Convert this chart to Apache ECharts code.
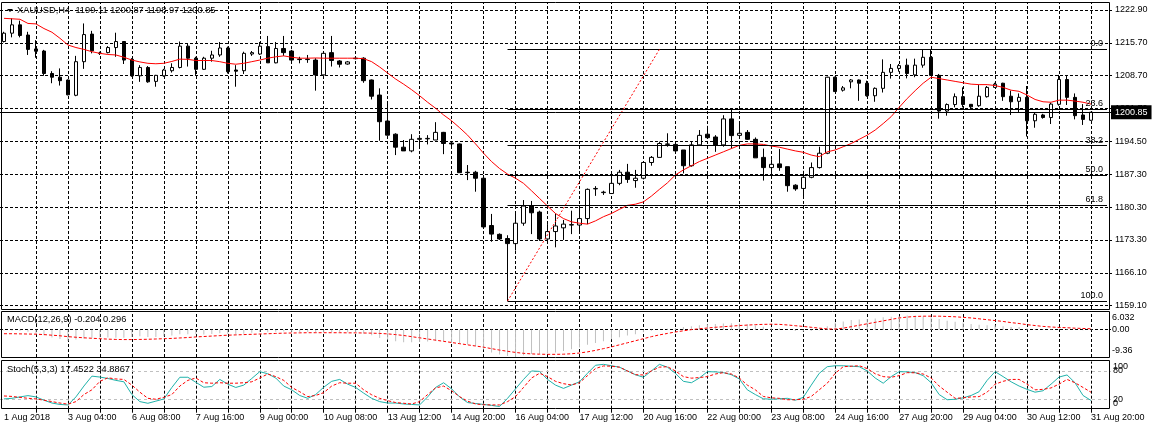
<!DOCTYPE html>
<html><head><meta charset="utf-8">
<script src="https://cdn.jsdelivr.net/npm/echarts@6/dist/echarts.min.js"></script>
<style>html,body{margin:0;padding:0;background:#fff}#c{width:1152px;height:430px}</style>
</head><body><div id="c"></div>
<script>
// ---------- data ----------
const symbolName = 'XAUUSD,H4';
const open = [1216.1,1217.9,1219.7,1217.5,1214.5,1214.05,1209.2,1208.4,1207.8,1204.5,
1211.75,1217.7,1213.6,1213.7,1214.8,1216.1,1212.25,1208.7,1210.5,1207.5,
1208.7,1209.8,1210.5,1215.1,1212.5,1210.1,1212.5,1213.2,1214.7,1209.95,
1209.8,1213.4,1213.4,1215.0,1211.5,1214.6,1214.05,1212.3,1212.2,1212.1,
1208.9,1213.7,1211.9,1211.25,1212.5,1212.5,1207.8,1204.55,1198.95,1196.1,
1193.3,1192.5,1195.0,1195.1,1194.85,1196.5,1194.2,1194.0,1187.9,1187.9,
1186.6,1176.4,1174.5,1173.6,1172.5,1176.9,1180.6,1179.3,1173.5,1175.1,
1175.9,1176.5,1176.5,1177.9,1184.3,1183.5,1183.3,1185.5,1187.9,1186.1,
1186.6,1190.0,1191.1,1193.9,1193.9,1192.7,1189.3,1193.8,1196.1,1195.5,
1193.8,1199.4,1195.85,1196.5,1195.0,1191.1,1188.9,1189.7,1189.1,1185.1,
1184.4,1186.8,1188.9,1192.0,1208.4,1205.6,1207.4,1207.8,1207.1,1204.4,
1206.0,1209.45,1210.3,1211.0,1208.9,1211.0,1212.7,1208.8,1201.1,1202.5,
1204.2,1202.55,1202.25,1204.2,1206.2,1207.1,1204.3,1203.2,1204.05,1199.0,
1200.25,1199.7,1202.55,1207.9,1204.05,1200.25,1199.11];
const high = [1218.2,1221.1,1220.6,1218.2,1216.4,1214.3,1209.7,1210.3,1207.9,1213.0,
1220.0,1218.4,1213.9,1215.1,1218.0,1216.2,1212.5,1211.0,1210.8,1208.9,
1210.2,1211.4,1216.1,1215.7,1212.8,1212.8,1214.1,1216.0,1215.0,1211.0,
1213.9,1214.05,1216.0,1217.3,1216.0,1217.3,1214.3,1212.8,1213.2,1212.5,
1213.9,1217.3,1212.1,1211.9,1212.8,1212.7,1207.9,1206.0,1202.9,1196.3,
1194.85,1196.1,1195.9,1195.9,1198.7,1196.6,1194.5,1194.1,1189.45,1188.2,
1187.3,1178.9,1174.7,1174.3,1179.0,1181.9,1181.7,1179.6,1176.7,1179.0,
1177.6,1179.6,1180.45,1184.4,1184.9,1183.9,1187.3,1188.4,1189.7,1188.4,
1190.2,1191.4,1194.5,1196.3,1194.1,1192.7,1194.5,1197.0,1197.9,1195.9,
1200.2,1201.7,1198.8,1197.0,1195.4,1193.0,1190.7,1192.9,1189.1,1185.3,
1188.2,1190.0,1193.4,1208.5,1208.5,1206.5,1208.0,1207.9,1207.65,1206.2,
1212.25,1211.25,1211.25,1212.4,1212.4,1214.3,1214.3,1209.1,1202.75,1204.9,
1206.2,1202.6,1206.7,1206.5,1207.2,1207.2,1205.5,1204.9,1206.5,1200.75,
1200.5,1202.9,1208.9,1208.65,1204.9,1202.6,1200.87];
const low = [1215.9,1217.0,1217.0,1213.2,1212.6,1208.7,1207.1,1206.6,1204.5,1204.3,
1210.2,1213.55,1213.2,1213.55,1212.8,1211.25,1208.5,1207.4,1207.2,1206.35,
1208.5,1209.4,1210.3,1210.7,1208.9,1209.95,1211.75,1212.8,1209.2,1206.35,
1209.1,1213.0,1213.2,1211.5,1211.4,1213.0,1211.75,1211.4,1211.5,1205.5,
1208.7,1210.7,1210.5,1211.1,1212.25,1207.2,1203.6,1194.7,1195.8,1191.6,
1192.5,1192.2,1193.0,1193.9,1194.85,1191.8,1193.4,1187.8,1186.2,1183.7,
1176.1,1172.9,1173.3,1160.1,1171.0,1176.35,1174.55,1173.1,1173.3,1171.7,
1173.3,1174.55,1174.7,1176.7,1182.8,1183.0,1183.2,1185.1,1185.6,1184.55,
1186.35,1189.3,1191.1,1193.4,1192.5,1187.65,1189.1,1193.7,1195.2,1192.3,
1193.4,1193.0,1195.35,1194.85,1191.0,1186.1,1187.3,1188.2,1183.7,1183.9,
1182.6,1186.6,1188.7,1191.8,1205.3,1205.3,1206.0,1203.3,1204.2,1203.1,
1205.1,1208.1,1209.6,1208.15,1208.4,1210.45,1208.7,1199.45,1200.1,1201.9,
1201.9,1201.75,1202.0,1204.0,1206.1,1203.3,1200.25,1200.9,1195.6,1197.5,
1199.45,1198.3,1202.25,1202.4,1199.3,1198.1,1198.97];
const close = [1217.9,1219.7,1217.4,1214.4,1214.0,1209.2,1208.4,1207.65,1204.6,1211.75,
1217.6,1214.1,1213.5,1214.8,1216.1,1212.1,1208.7,1210.5,1207.4,1208.8,
1209.95,1210.5,1215.1,1212.5,1210.1,1212.5,1213.2,1214.7,1209.6,1209.7,
1213.55,1213.7,1215.1,1211.5,1214.6,1213.7,1212.1,1212.2,1212.3,1208.9,
1213.55,1212.0,1211.2,1211.7,1212.4,1207.65,1204.3,1198.8,1195.9,1193.3,
1192.5,1195.0,1195.2,1195.2,1196.5,1194.1,1194.0,1187.8,1187.8,1186.6,
1176.1,1174.55,1173.5,1172.5,1176.9,1180.6,1179.15,1173.5,1175.1,1176.3,
1176.7,1176.6,1177.9,1184.2,1184.4,1183.6,1185.5,1187.9,1186.35,1186.6,
1190.0,1191.1,1194.1,1194.0,1192.5,1189.3,1193.8,1195.85,1195.35,1193.8,
1199.4,1195.8,1196.3,1195.0,1191.0,1188.9,1189.6,1188.9,1185.0,1184.3,
1186.8,1188.9,1192.0,1208.4,1205.3,1206.1,1207.8,1207.1,1204.4,1206.0,
1209.45,1210.3,1210.9,1209.2,1211.0,1212.7,1208.8,1201.1,1202.5,1204.2,
1202.5,1202.0,1204.3,1206.2,1206.9,1204.2,1203.1,1204.05,1199.0,1200.4,
1199.7,1202.6,1207.9,1204.05,1200.1,1199.3,1200.85];
const movingAverage = [1221.1,1221.0,1220.9,1220.0,1219.9,1218.9,1218.1,1216.8,1215.35,1214.8,
1214.4,1213.9,1213.55,1213.3,1213.2,1212.7,1212.1,1211.7,1211.4,1211.3,
1211.4,1211.8,1212.3,1212.25,1212.0,1212.0,1212.0,1211.75,1211.4,1211.2,
1211.4,1211.75,1212.1,1212.5,1212.8,1213.0,1212.7,1212.5,1212.5,1212.55,
1212.5,1212.5,1212.5,1212.5,1212.5,1212.4,1211.75,1210.6,1209.3,1208.0,
1206.9,1205.7,1204.4,1203.0,1201.7,1200.25,1199.0,1197.5,1195.9,1194.0,
1192.0,1190.2,1188.7,1187.5,1186.6,1185.5,1183.9,1182.25,1180.6,1179.0,
1177.9,1177.2,1176.9,1176.7,1177.4,1178.3,1179.0,1179.9,1180.75,1181.0,
1181.5,1182.75,1184.2,1185.6,1187.3,1188.4,1189.3,1190.2,1190.9,1191.6,
1192.3,1193.0,1193.7,1194.0,1194.0,1193.9,1193.55,1193.3,1192.9,1192.5,
1192.2,1191.6,1191.25,1192.3,1192.7,1193.4,1194.1,1195.0,1195.9,1197.0,
1198.4,1199.9,1201.9,1203.8,1205.5,1207.1,1208.4,1208.1,1207.8,1207.5,
1207.2,1206.9,1206.8,1206.8,1206.6,1206.2,1205.6,1205.35,1204.55,1203.6,
1203.1,1203.0,1203.45,1203.45,1203.25,1203.0,1202.6];
const macdMain = [-0.3,-0.3,-0.4,-0.7,-1.3,-1.9,-2.7,-3.2,-3.9,-3.4,
-3.0,-2.8,-2.7,-2.7,-2.8,-2.8,-2.5,-2.3,-2.5,-2.5,
-2.3,-2.0,-1.6,-1.6,-1.6,-1.7,-1.5,-1.2,-1.5,-1.7,
-1.4,-1.1,-0.8,-0.9,-0.7,-0.6,-0.7,-0.8,-0.8,-1.1,
-0.8,-0.8,-0.9,-0.9,-0.8,-1.3,-1.9,-2.9,-3.5,-4.0,
-4.3,-4.3,-4.2,-4.1,-3.9,-4.0,-4.6,-4.9,-5.1,-5.6,
-6.8,-7.8,-8.5,-9.0,-9.36,-8.8,-8.3,-8.3,-8.1,-7.8,
-7.3,-6.7,-6.1,-5.2,-4.6,-4.0,-3.3,-2.6,-2.0,-1.6,
-0.9,-0.4,0.0,0.3,0.6,0.9,1.2,1.5,1.8,1.9,
2.1,2.2,2.1,1.8,1.4,1.0,0.7,0.4,-0.1,-0.5,
-0.6,-0.5,-0.2,1.2,2.4,2.8,3.3,3.5,3.6,3.8,
4.2,4.4,4.6,4.8,4.8,4.6,4.2,3.6,3.0,2.7,
2.4,1.9,1.7,1.5,1.5,1.2,0.9,0.9,0.4,0.2,
0.1,0.1,0.3,0.2,-0.1,-0.2,-0.204];
const macdSignal = [-1.4,-1.4,-1.45,-1.5,-1.55,-1.7,-1.9,-2.1,-2.4,-2.6,
-2.8,-2.95,-3.1,-3.25,-3.35,-3.4,-3.4,-3.35,-3.3,-3.2,
-3.1,-3.0,-2.85,-2.7,-2.5,-2.35,-2.2,-2.05,-1.9,-1.8,
-1.7,-1.6,-1.5,-1.4,-1.3,-1.2,-1.15,-1.1,-1.05,-1.05,
-1.05,-1.05,-1.05,-1.1,-1.1,-1.15,-1.2,-1.3,-1.45,-1.7,
-2.0,-2.4,-2.8,-3.2,-3.6,-4.0,-4.4,-4.8,-5.2,-5.6,
-6.0,-6.5,-7.0,-7.4,-7.8,-8.1,-8.3,-8.4,-8.45,-8.45,
-8.4,-8.25,-8.0,-7.6,-7.1,-6.5,-5.9,-5.2,-4.5,-3.8,
-3.1,-2.4,-1.8,-1.3,-0.8,-0.4,0.0,0.3,0.55,0.8,
1.0,1.2,1.4,1.55,1.7,1.8,1.85,1.8,1.6,1.35,
1.1,0.8,0.5,0.25,0.2,0.5,1.0,1.5,2.0,2.5,
3.0,3.5,4.0,4.3,4.5,4.6,4.6,4.6,4.5,4.4,
4.2,4.0,3.7,3.4,3.1,2.8,2.4,2.1,1.7,1.4,
1.1,0.9,0.75,0.65,0.5,0.4,0.296];
const stochMain = [20.7,22,25,27.7,25,18,12,9,8,25,
48,69,67,64,60,57,30,15,11.5,16,
20.7,45,66.6,66.6,56,45.5,47,62,52,45,
50,64,78.5,74,65,48,40,28,22,30,
45.5,58,62,52,45,33,22,15,12,12,
10,9,8,25,45,55,42,25,13,11,
9,7,4.6,22,42,62,80,79,62,50,
43,50,57,75,92,94,91,88,80,72,
66.6,80,94,88,75,58,55,65,78.5,78,
76.4,72,63,40,30,21,20,21,22,18,
24,50,75,89,91,91,90,89,80,65,
54,68,78.5,78,76.4,70,55,30,19,20,
23,28,36,60,78.5,68,57,48,41,35,
38,52,67,71.5,55,28,17.4522];
const stochSignal = [27,26,24,22,20.7,18,15,12,9.5,15,
30,40,58,65.5,63,62,50,35,22,20,
24,30,48,60,65,55,54,55,54,54,
55,57,65,73.5,68,60,45,36,25.6,28,
34,48,55,54,54,40,29.5,22,17,13,
11.5,10,15,30,44,48,38,25.6,16,10,
8.5,8,8,15,25.6,45,65,75,68,58,
53,50.3,55,70,85,90.6,90,88,80,72,
71.5,80,88,89,80,68,64.7,66,68,73.5,
76.4,73.5,65,50,40,26,23,22,19,19,
20,26,40,54,75,89,90,91,85,74,
68,66.6,70,76.4,76,73.5,65,48,35,22,
23,25,25.6,35,52,58,62,62,52,40,
41,44,52,62,55,45,34.8867];
const priceGridValues = [1222.90,1215.81,1208.72,1201.63,1194.54,1187.46,1180.37,1173.28,1166.19,1159.10];
const priceTickLabels = ['1222.90','1215.70','1208.70','1201.70','1194.50','1187.30','1180.30','1173.30','1166.10','1159.10'];
const macdTicks = [6.032, 0, -9.36];
const macdTickLabels = ['6.032','0.00','-9.36'];
const stochEdgeTicks = [100, 0];
const stochLevels = [80, 20];
const timeTickIndex = [0,8,16,24,32,40,48,56,64,72,80,88,96,104,112,120,128,136];
const timeTickLabels = ['1 Aug 2018','3 Aug 04:00','6 Aug 08:00','7 Aug 16:00','9 Aug 00:00','10 Aug 08:00','13 Aug 12:00','14 Aug 20:00','16 Aug 04:00','17 Aug 12:00','20 Aug 16:00','22 Aug 00:00','23 Aug 08:00','24 Aug 16:00','27 Aug 20:00','29 Aug 04:00','30 Aug 12:00','31 Aug 20:00'];
const fibLevels = [0, 23.6, 38.2, 50, 61.8, 100];
const fibLevelLabels = ['0.0','23.6','38.2','50.0','61.8','100.0'];
const fibLowIndex = 63, fibLowPrice = 1160.1;
const fibHighIndex = 82, fibHighPrice = 1214.4;

// ---------- build ----------
const N = close.length;
const categories = Array.from({length: N + 2}, (_, i) => String(i));
const candles = close.map((c, i) => [open[i], c, low[i], high[i]]);
const FONT = 'Liberation Sans';
const gridDash = {color: '#000', width: 1, type: [3, 2]};
const vLines = [];
for (let i = 4; i < N + 2; i += 4) vLines.push({xAxis: i});
const baseMark = {silent: true, symbol: ['none', 'none'], label: {show: false}, animation: false, z: 1};
const empty = categories.map(() => '-');
const lastBid = close[N - 1];

const fibData = fibLevels.map((lv, k) => {
  const p = fibHighPrice - lv / 100 * (fibHighPrice - fibLowPrice);
  return [{coord: [fibLowIndex, p], label: {show: true, formatter: fibLevelLabels[k]}}, {coord: [N + 1, p]}];
});

const chart = echarts.init(document.getElementById('c'), null, {renderer: 'canvas'});
const richTop = (pad) => ({t: {padding: [pad, 0, 0, 0], fontSize: 9, fontFamily: FONT, color: '#000'},
                            b: {padding: [0, 0, pad, 0], fontSize: 9, fontFamily: FONT, color: '#000'},
                            m: {fontSize: 9, fontFamily: FONT, color: '#000'}});
const titleStyle = {fontSize: 9.3, fontWeight: 'normal', color: '#000', fontFamily: FONT};
const option = {
  animation: false,
  backgroundColor: '#fff',
  textStyle: {fontFamily: FONT},
  title: [
    {text: symbolName + '  ' + [open[N-1], high[N-1], low[N-1], close[N-1]].map(v => v.toFixed(2)).join(' '),
     left: 17, top: 6, padding: 0, textStyle: titleStyle},
    {text: 'MACD(12,26,9) ' + macdMain[N-1].toFixed(3) + ' ' + macdSignal[N-1].toFixed(3),
     left: 7, top: 315, padding: 0, textStyle: titleStyle},
    {text: 'Stoch(5,3,3) ' + stochMain[N-1].toFixed(4) + ' ' + stochSignal[N-1].toFixed(4),
     left: 7, top: 365, padding: 0, textStyle: titleStyle}
  ],
  graphic: [
    {type: 'polygon', shape: {points: [[7, 9], [13, 9], [10, 12]]}, style: {fill: '#000'}},
    {type: 'rect', shape: {x: 1.5, y: 2.5, width: 1108, height: 307}, style: {fill: 'none', stroke: '#000', lineWidth: 1}, z: 10},
    {type: 'rect', shape: {x: 1.5, y: 311.5, width: 1108, height: 46}, style: {fill: 'none', stroke: '#000', lineWidth: 1}, z: 10},
    {type: 'rect', shape: {x: 1.5, y: 360.5, width: 1108, height: 48}, style: {fill: 'none', stroke: '#000', lineWidth: 1}, z: 10}
  ],
  grid: [
    {left: -1, width: 1112, top: 3, height: 306},
    {left: -1, width: 1112, top: 312, height: 45},
    {left: -1, width: 1112, top: 361.5, height: 47.2}
  ],
  xAxis: [0, 1, 2].map(g => ({
    type: 'category', gridIndex: g, data: categories, boundaryGap: true,
    axisLine: {show: false}, splitLine: {show: false},
    axisTick: g === 2 ? {show: true, alignWithLabel: true, interval: (i) => i > 0 && i % 4 === 0, length: 4, lineStyle: {color: '#000'}} : {show: false},
    axisLabel: g === 2 ? {show: true, interval: (i) => timeTickIndex.includes(i),
      formatter: (v, i) => timeTickLabels[timeTickIndex.indexOf(Number(v))] || '',
      align: 'left', margin: 4, color: '#000', fontSize: 9, fontFamily: FONT} : {show: false}
  })),
  yAxis: [
    {type: 'value', gridIndex: 0, position: 'right', offset: -2, min: 1158.39, max: 1224.41,
     splitLine: {show: false}, axisLine: {show: false},
     axisTick: {show: true, customValues: priceGridValues, length: 3, lineStyle: {color: '#000'}},
     axisLabel: {customValues: priceGridValues, margin: 6, color: '#000', fontSize: 9, fontFamily: FONT,
       showMinLabel: true, showMaxLabel: true,
       formatter: (v) => { const k = priceGridValues.findIndex(p => Math.abs(p - v) < 1e-6); return k >= 0 ? priceTickLabels[k] : ''; }}},
    {type: 'value', gridIndex: 1, position: 'right', offset: -2, min: -9.36, max: 6.032,
     splitLine: {show: false}, axisLine: {show: false},
     axisTick: {show: false, customValues: macdTicks},
     axisLabel: {customValues: macdTicks, margin: 3, rich: richTop(12), showMinLabel: true, showMaxLabel: true,
       formatter: (v) => { const k = macdTicks.findIndex(p => Math.abs(p - v) < 1e-6); const s = macdTickLabels[k];
         return k === 0 ? '{t|' + s + '}' : (k === 2 ? '{b|' + s + '}' : '{m|' + s + '}'); }}},
    {type: 'value', gridIndex: 2, position: 'right', offset: -2, min: 0, max: 100,
     splitLine: {show: false}, axisLine: {show: false},
     axisTick: {show: false, customValues: stochLevels},
     axisLabel: {customValues: stochLevels, margin: 4, rich: richTop(10), showMinLabel: true, showMaxLabel: true,
       formatter: (v) => '{m|' + v + '}'}},
    {type: 'value', gridIndex: 2, position: 'right', offset: -2, min: 0, max: 100,
     splitLine: {show: false}, axisLine: {show: false},
     axisTick: {show: false, customValues: stochEdgeTicks},
     axisLabel: {customValues: stochEdgeTicks, margin: 4, rich: richTop(10), showMinLabel: true, showMaxLabel: true,
       formatter: (v) => v === 100 ? '{t|100}' : '{b|0}'}}
  ],
  series: [
    {type: 'line', xAxisIndex: 0, yAxisIndex: 0, data: empty, z: 1,
     markLine: Object.assign({}, baseMark, {lineStyle: gridDash,
       data: priceGridValues.map(v => ({yAxis: v})).concat(vLines)})},
    {type: 'candlestick', xAxisIndex: 0, yAxisIndex: 0, data: candles, barWidth: 4, z: 3,
     itemStyle: {color: '#fff', color0: '#000', borderColor: '#000', borderColor0: '#000', borderWidth: 1}},
    {type: 'line', xAxisIndex: 0, yAxisIndex: 0, data: movingAverage, showSymbol: false, symbol: 'none', z: 4,
     lineStyle: {color: '#ff0000', width: 1}},
    {type: 'line', xAxisIndex: 0, yAxisIndex: 0, data: empty, z: 5,
     markLine: {silent: true, symbol: ['none', 'none'], animation: false, z: 6,
       lineStyle: {color: '#000', width: 1, type: 'solid'},
       label: {show: true, position: 'insideEndTop', distance: [4, 1], color: '#000', fontSize: 9, fontFamily: FONT},
       data: fibData.concat([
         [{coord: [fibLowIndex, fibLowPrice], lineStyle: {color: '#ff0000', type: [2, 2]}, label: {show: false}},
          {coord: [fibHighIndex, fibHighPrice]}],
         {yAxis: lastBid, lineStyle: {color: '#000', type: 'solid'},
          label: {show: true, position: 'end', distance: 0, formatter: lastBid.toFixed(2), color: '#fff',
                  backgroundColor: '#000', padding: [3, 4, 2, 4], fontSize: 9, fontFamily: FONT}}
       ])}},
    {type: 'line', xAxisIndex: 1, yAxisIndex: 1, data: empty, z: 1,
     markLine: Object.assign({}, baseMark, {lineStyle: gridDash, data: [{yAxis: 0}].concat(vLines)})},
    {type: 'bar', xAxisIndex: 1, yAxisIndex: 1, data: macdMain, barWidth: 1, z: 3, itemStyle: {color: '#c0c0c0'}},
    {type: 'line', xAxisIndex: 1, yAxisIndex: 1, data: macdSignal, showSymbol: false, symbol: 'none', z: 4,
     lineStyle: {color: '#ff0000', width: 1, type: [3, 2]}},
    {type: 'line', xAxisIndex: 2, yAxisIndex: 2, data: empty, z: 1,
     markLine: Object.assign({}, baseMark, {lineStyle: gridDash,
       data: vLines.concat(stochLevels.map(v => ({yAxis: v, lineStyle: {color: '#c0c0c0', type: [3, 3]}})))})},
    {type: 'line', xAxisIndex: 2, yAxisIndex: 2, data: stochMain, showSymbol: false, symbol: 'none', z: 3,
     lineStyle: {color: '#20b2aa', width: 1}},
    {type: 'line', xAxisIndex: 2, yAxisIndex: 2, data: stochSignal, showSymbol: false, symbol: 'none', z: 4,
     lineStyle: {color: '#ff0000', width: 1, type: [3, 2]}}
  ]
};
chart.setOption(option);
</script></body></html>
